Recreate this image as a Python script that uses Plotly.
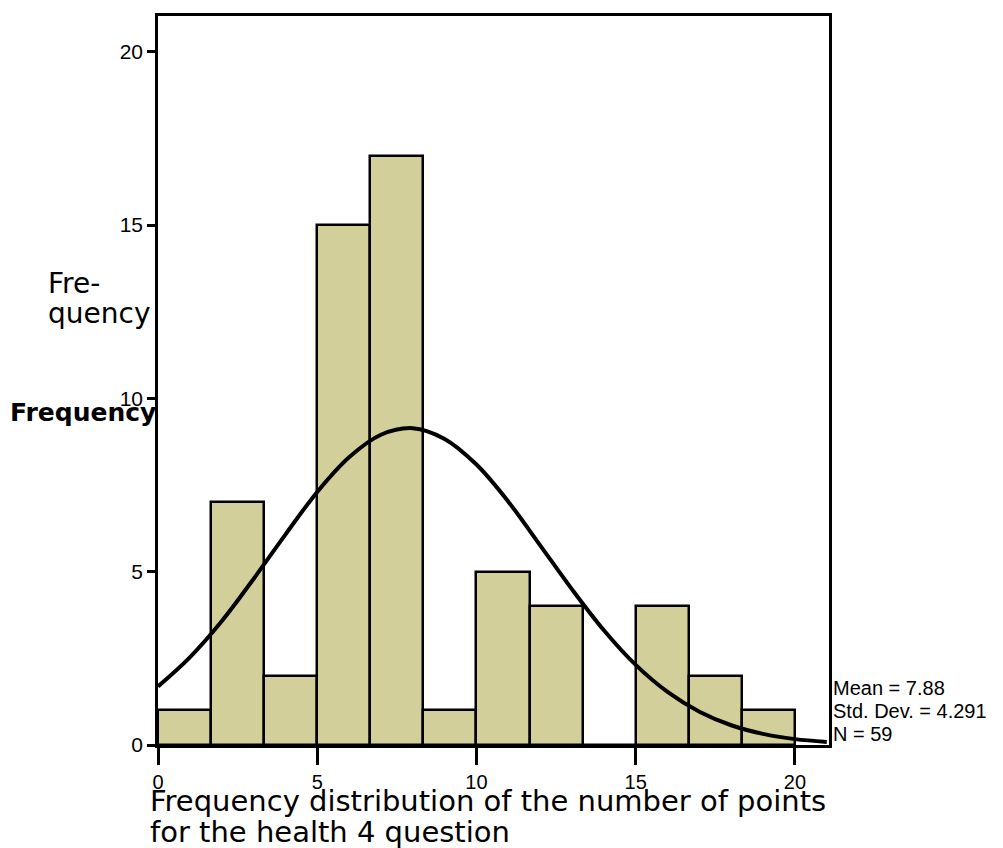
import plotly.graph_objects as go

# Histogram data (bin width 5/3, from 0 to 20)
bin_starts = [0, 5/3, 10/3, 5, 20/3, 25/3, 10, 35/3, 40/3, 15, 50/3, 55/3]
counts = [1, 7, 2, 15, 17, 1, 5, 4, 0, 4, 2, 1]
bin_width = 5/3

# Fitted normal curve
curve_x = [0, 1, 2, 3, 4, 5, 6, 7, 8, 9, 10, 11, 12, 13, 14, 15, 16, 17, 18, 19, 20, 21]
curve_y = [1.69, 2.53, 3.57, 4.79, 6.07, 7.30, 8.30, 8.95, 9.14, 8.83, 8.09, 7.02,
           5.76, 4.49, 3.31, 2.31, 1.53, 0.96, 0.57, 0.32, 0.17, 0.09]

x_ticks = [0, 5, 10, 15, 20]
y_ticks = [0, 5, 10, 15, 20]

stats_text = ["Mean = 7.88", "Std. Dev. = 4.291", "N = 59"]
title_lines = ["Frequency distribution of the number of points", "for the health 4 question"]

fig = go.Figure()
fig.add_trace(go.Bar(
    x=[s + bin_width / 2 for s in bin_starts], y=counts, width=bin_width,
    marker=dict(color="#D3CF9B", line=dict(color="black", width=2.5)),
    showlegend=False, hoverinfo="skip"))
fig.add_trace(go.Scatter(
    x=curve_x, y=curve_y, mode="lines", line=dict(color="black", width=4, shape="spline"),
    showlegend=False))

PL, PT, PW, PH = 158, 13, 671, 732  # plot area in page pixels


def px(x):
    return (x - PL) / PW


def py(y):
    return (PT + PH - y) / PH


fig.update_layout(
    width=995, height=840,
    margin=dict(l=150, r=174, t=5, b=103),
    paper_bgcolor="white", plot_bgcolor="white",
    bargap=0,
    xaxis=dict(range=[0, 21.07], tickvals=x_ticks, ticks="outside", ticklen=17, tickwidth=2.5,
               tickcolor="black", showline=True, linecolor="black", linewidth=2.5, mirror=True,
               showgrid=False, zeroline=False,
               tickfont=dict(family="Liberation Sans, Arial", size=20, color="black")),
    yaxis=dict(range=[0, 21.03], tickvals=y_ticks, ticks="outside", ticklen=8, tickwidth=2.5,
               tickcolor="black", showline=True, linecolor="black", linewidth=2.5, mirror=True,
               showgrid=False, zeroline=False,
               tickfont=dict(family="Liberation Sans, Arial", size=21, color="black")),
)

annotations = []
for i, (line, yc) in enumerate(zip(title_lines, [801, 832])):
    annotations.append(dict(
        text=line, xref="paper", yref="paper", x=px(148), y=py(yc),
        xanchor="left", yanchor="middle", align="left", showarrow=False,
        font=dict(family="DejaVu Sans", size=29, color="black")))
for line, yc in zip(["Fre-", "quency"], [282, 312]):
    annotations.append(dict(
        text=line, xref="paper", yref="paper", x=px(46), y=py(yc),
        xanchor="left", yanchor="middle", align="left", showarrow=False,
        font=dict(family="DejaVu Sans", size=28, color="black")))
annotations.append(dict(
    text="<b>Frequency</b>", xref="paper", yref="paper", x=px(8), y=py(411),
    xanchor="left", yanchor="middle", align="left", showarrow=False,
    font=dict(family="DejaVu Sans", size=25, color="black")))
for line, yc in zip(stats_text, [688, 711, 734]):
    annotations.append(dict(
        text=line, xref="paper", yref="paper", x=px(831), y=py(yc),
        xanchor="left", yanchor="middle", align="left", showarrow=False,
        font=dict(family="Liberation Sans, Arial", size=20, color="black")))
fig.update_layout(annotations=annotations)

fig.write_html("out.html")
